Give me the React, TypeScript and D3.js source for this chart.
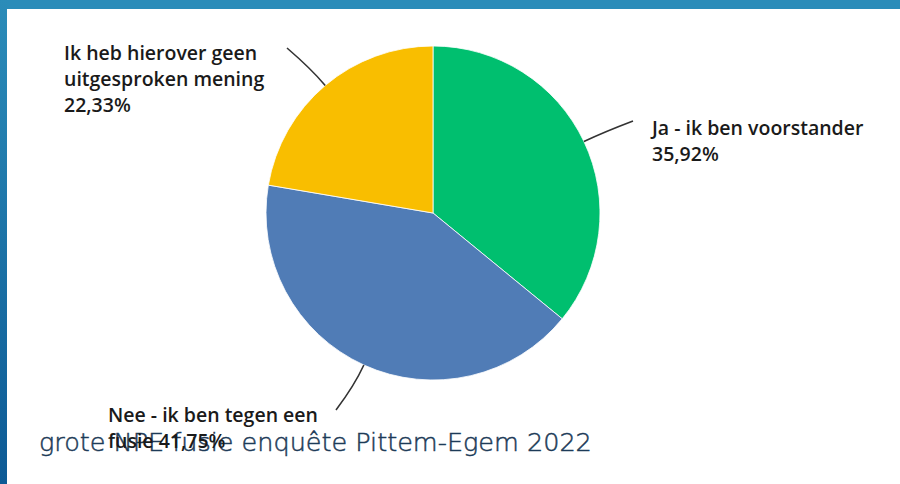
import React from "react";
import * as d3 from "d3";

const categories = ["Ja - ik ben voorstander", "Nee - ik ben tegen een fusie", "Ik heb hierover geen uitgesproken mening"];
const values = [35.92, 41.75, 22.33];
const valueLabels = ["35,92%", "41,75%", "22,33%"];
const labelLines = [
  ["Ja - ik ben voorstander", "35,92%"],
  ["Nee - ik ben tegen een", "fusie 41,75%"],
  ["Ik heb hierover geen", "uitgesproken mening", "22,33%"],
];
const colors = ["#00bf6f", "#507cb6", "#f9be00"];
const title = "grote NPE fusie enquête Pittem-Egem 2022";

// layout (not data)
const W = 900, H = 484;
const cx = 433, cy = 213, R = 167;
const leaderEnds: [number, number][] = [[633, 121], [336, 410], [287, 48]];
const labelPos: [number, number][] = [[652, 135], [108, 422], [64, 60]];
const lineH = 26;

export default function App() {
  const pie = d3.pie<number>().sort(null).value((d) => d)(values);
  const arc = d3.arc<d3.PieArcDatum<number>>().innerRadius(0).outerRadius(R);
  return (
    <svg width={W} height={H} style={{ position: "absolute", left: 0, top: 0, display: "block", background: "#fff" }}>
      <defs>
        <linearGradient id="side" x1="0" y1="0" x2="0" y2="1">
          <stop offset="0" stopColor="#2b8cb9" />
          <stop offset="1" stopColor="#0d5a95" />
        </linearGradient>
      </defs>
      <rect x={0} y={0} width={W} height={9} fill="#2b8cb9" />
      <rect x={0} y={0} width={7} height={H} fill="url(#side)" />
      <g transform={`translate(${cx},${cy})`}>
        {pie.map((p, i) => (
          <path key={i} d={arc(p) || ""} fill={colors[i]} stroke="#ffffff" strokeWidth={0.8} />
        ))}
      </g>
      {pie.map((p, i) => {
        const a = (p.startAngle + p.endAngle) / 2;
        const dx = Math.sin(a), dy = -Math.cos(a);
        const sx = cx + dx * R, sy = cy + dy * R;
        const qx = cx + dx * (R + 22), qy = cy + dy * (R + 22);
        const [ex, ey] = leaderEnds[i];
        const path = d3.path();
        path.moveTo(sx, sy);
        path.quadraticCurveTo(qx, qy, ex, ey);
        return <path key={"l" + i} d={path.toString()} fill="none" stroke="#333" strokeWidth={1.6} />;
      })}
      <text x={39} y={451} fontFamily="'DejaVu Sans', sans-serif" fontWeight={200} fontSize={25.5}
        fill="#1d3b58" stroke="#1d3b58" strokeWidth={0.5}>
        {title}
      </text>
      {labelLines.map((lines, i) => (
        <text key={"t" + i} fontFamily="'Open Sans', sans-serif" fontWeight={600} fontSize={19.5} fill="#1a1a1a">
          {lines.map((s, j) => (
            <tspan key={j} x={labelPos[i][0]} y={labelPos[i][1] + j * lineH}>{s}</tspan>
          ))}
        </text>
      ))}
    </svg>
  );
}
